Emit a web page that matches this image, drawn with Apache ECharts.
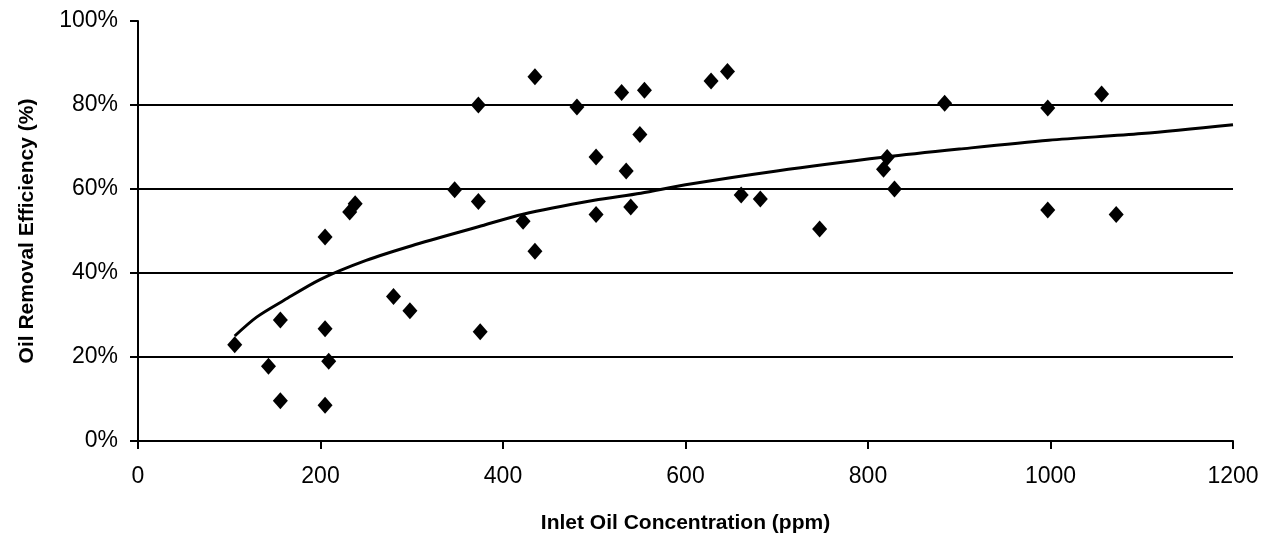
<!DOCTYPE html>
<html>
<head>
<meta charset="utf-8">
<script src="https://cdn.jsdelivr.net/npm/echarts@6/dist/echarts.min.js"></script>
<style>
  html, body { margin: 0; padding: 0; background: #fff; }
  #chart { width: 1277px; height: 544px; }
</style>
</head>
<body>
<div id="chart"></div>
<script>
// measured points: inlet concentration (ppm) and removal efficiency (%)
const inletPpm = [
  106, 143, 156, 156, 205, 205, 209, 205, 232, 238,
  280, 298, 347, 373, 373, 375, 422, 435, 435, 481,
  502, 502, 530, 535, 540, 550, 555, 628, 646, 661,
  682, 747, 817, 821, 829, 884, 997, 997, 1056, 1072
];
const efficiencyPct = [
  22.9, 17.8, 28.8, 9.6, 48.6, 26.7, 19.0, 8.5, 54.5, 56.5,
  34.4, 31.0, 59.8, 80.0, 57.0, 26.0, 52.3, 86.7, 45.2, 79.5,
  67.6, 53.9, 83.0, 64.3, 55.7, 73.0, 83.5, 85.7, 88.0, 58.6,
  57.6, 50.5, 64.7, 67.5, 60.0, 80.4, 79.3, 55.0, 82.6, 53.9
];

// trend curve
const trendX = [106, 130, 160, 200, 250, 300, 373, 422, 500, 551, 600, 700, 819, 900, 998, 1100, 1200];
const trendY = [25, 29.5, 33.5, 38.5, 43, 46.5, 51, 54, 57.3, 59, 61, 64.3, 67.6, 69.5, 71.6, 73.2, 75.3];

const xTicks = [0, 200, 400, 600, 800, 1000, 1200];
const yTicks = [0, 20, 40, 60, 80, 100];

const font = '"Liberation Sans", Arial, sans-serif';

const chart = echarts.init(document.getElementById('chart'));

chart.setOption({
  animation: false,
  backgroundColor: '#ffffff',
  grid: { left: 138, right: 44, top: 21, bottom: 103 },
  xAxis: {
    type: 'value',
    min: xTicks[0],
    max: xTicks[xTicks.length - 1],
    interval: 200,
    name: 'Inlet Oil Concentration (ppm)',
    nameLocation: 'middle',
    nameGap: 72,
    nameTextStyle: { color: '#000', fontFamily: font, fontSize: 21, fontWeight: 'bold' },
    axisLine: { lineStyle: { color: '#000', width: 2 } },
    axisTick: { show: true, length: 8, lineStyle: { color: '#000', width: 2 } },
    axisLabel: {
      color: '#000', fontFamily: font, fontSize: 23, margin: 24,
      formatter: (v) => String(v)
    },
    splitLine: { show: false }
  },
  yAxis: {
    type: 'value',
    min: yTicks[0],
    max: yTicks[yTicks.length - 1],
    interval: 20,
    name: 'Oil Removal Efficiency (%)',
    nameLocation: 'middle',
    nameGap: 100,
    nameRotate: 90,
    nameTextStyle: { color: '#000', fontFamily: font, fontSize: 21, fontWeight: 'bold' },
    axisLine: { show: true, lineStyle: { color: '#000', width: 2 } },
    axisTick: { show: true, length: 8, lineStyle: { color: '#000', width: 2 } },
    axisLabel: { color: '#000', fontFamily: font, fontSize: 23, margin: 20, formatter: '{value}%' },
    splitLine: {
      show: true,
      lineStyle: { color: ['#000', '#000', '#000', '#000', '#000', 'transparent'], width: 2 }
    }
  },
  series: [
    {
      type: 'line',
      data: trendX.map((x, i) => [x, trendY[i]]),
      smooth: 0.3,
      showSymbol: false,
      lineStyle: { color: '#000', width: 3 },
      z: 2
    },
    {
      type: 'scatter',
      data: inletPpm.map((x, i) => [x, efficiencyPct[i]]),
      symbol: 'diamond',
      symbolSize: [15, 17],
      itemStyle: { color: '#000', opacity: 1 },
      z: 3
    }
  ]
});
</script>
</body>
</html>
